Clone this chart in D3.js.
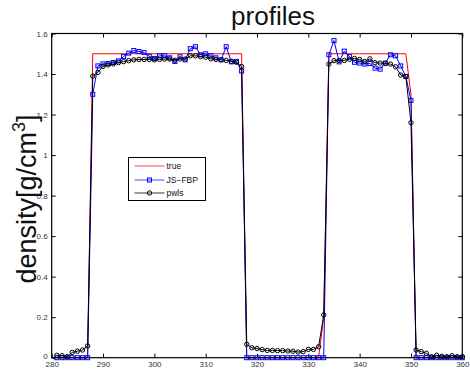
<!DOCTYPE html>
<html><head><meta charset="utf-8">
<script src="https://cdn.jsdelivr.net/npm/d3@7"></script>
<style>body{margin:0;background:#fff}svg{display:block}text{font-family:"Liberation Sans",Arial,sans-serif}</style>
</head><body><svg id="c" width="470" height="369"></svg>
<script>
const positions = [281,282,283,284,285,286,287,288,289,290,291,292,293,294,295,296,297,298,299,300,
301,302,303,304,305,306,307,308,309,310,311,312,313,314,315,316,317,318,319,320,
321,322,323,324,325,326,327,328,329,330,331,332,333,334,335,336,337,338,339,340,
341,342,343,344,345,346,347,348,349,350,351,352,353,354,355,356,357,358,359,360];
const trueVals = [0,0,0,0,0,0,0,
1.5,1.5,1.5,1.5,1.5,1.5,1.5,1.5,1.5,1.5,1.5,1.5,1.5,1.5,1.5,1.5,1.5,1.5,1.5,1.5,1.5,1.5,1.5,1.5,1.5,1.5,1.5,1.5,1.5,1.5,
0,0,0,0,0,0,0,0,0,0,0,0,0,0,0,
0.2,
1.5,1.5,1.5,1.5,1.5,1.5,1.5,1.5,1.5,1.5,1.5,1.5,1.5,1.5,1.5,1.5,
1.3,
0,0,0,0,0,0,0,0,0,0];
const jsfbpVals = [0,0,0,0,0,0,0,
1.30,1.44,1.45,1.452,1.457,1.465,1.486,1.503,1.516,1.511,1.506,1.488,1.477,1.49,1.49,1.48,1.462,1.485,1.47,1.525,1.535,1.495,1.50,1.49,1.48,1.47,1.535,1.46,1.462,1.415,
0,0,0,0,0,0,0,0,0,0,0,0,0,0,0,0,
1.495,1.565,1.46,1.513,1.486,1.458,1.454,1.449,1.452,1.429,1.424,1.454,1.495,1.49,1.44,1.388,1.27,
0,0,0,0,0,0,0,0,0,0];
const pwlsVals = [0.012,0.01,0.005,0.026,0.032,0.038,0.058,
1.39,1.408,1.438,1.445,1.45,1.456,1.461,1.466,1.47,1.472,1.472,1.472,1.47,1.472,1.474,1.474,1.468,1.474,1.474,1.49,1.49,1.486,1.483,1.475,1.472,1.47,1.467,1.463,1.458,1.437,
0.066,0.049,0.045,0.04,0.036,0.036,0.035,0.035,0.033,0.032,0.028,0.03,0.041,0.041,0.054,
0.211,
1.449,1.466,1.467,1.467,1.473,1.477,1.472,1.462,1.475,1.456,1.454,1.452,1.449,1.436,1.395,1.388,1.16,
0.038,0.03,0.022,0.005,0.012,0.007,0.005,0.01,0.005,0.005];
const xTicks = [280,290,300,310,320,330,340,350,360];
const yTicks = [0,0.2,0.4,0.6,0.8,1,1.2,1.4,1.6];
const seriesNames = ["true","JS\u2212FBP","pwls"];
const titleText = "profiles";

const svg = d3.select("#c");
const L = 51.7, R = 462.3, T = 33.5, B = 357.7;
const x = d3.scaleLinear().domain([280,360]).range([L,R]);
const y = d3.scaleLinear().domain([0,1.6]).range([B,T]);

const fmtY = d => d === 0 ? "0" : (d === 1 ? "1" : d3.format(".1f")(d));

// axes
const axB = d3.axisBottom(x).tickValues(xTicks).tickSize(-4).tickPadding(4).tickFormat(d3.format("d"));
const axT = d3.axisTop(x).tickValues(xTicks).tickSize(-4).tickFormat("");
const axL = d3.axisLeft(y).tickValues(yTicks).tickSize(-4).tickPadding(4).tickFormat(fmtY);
const axR = d3.axisRight(y).tickValues(yTicks).tickSize(-4).tickFormat("");
function style(g){ g.select(".domain").remove(); g.selectAll("line").attr("stroke","#000"); g.selectAll("text").attr("font-size",8).attr("fill","#333").attr("font-family","Liberation Sans, Arial, sans-serif"); }
svg.append("g").attr("transform",`translate(0,${B})`).call(axB).call(style);
svg.append("g").attr("transform",`translate(0,${T})`).call(axT).call(style);
const gl = svg.append("g").attr("transform",`translate(${L},0)`).call(axL).call(style);
gl.selectAll(".tick").filter(d=>d===0).select("text").attr("dy","0.1em");
svg.append("g").attr("transform",`translate(${R},0)`).call(axR).call(style);

const rows = positions.map((p,i)=>({p, t:trueVals[i], j:jsfbpVals[i], w:pwlsVals[i]}));
const line = key => d3.line().x(d=>x(d.p)).y(d=>y(d[key]));

const plot = svg.append("g");
plot.append("path").datum(rows).attr("d",line("t")).attr("fill","none").attr("stroke","#ff0000").attr("stroke-width",1);
plot.append("path").datum(rows).attr("d",line("j")).attr("fill","none").attr("stroke","#0000ff").attr("stroke-width",1);
plot.selectAll("rect.sq").data(rows).enter().append("rect").attr("class","sq")
  .attr("x",d=>x(d.p)-2).attr("y",d=>y(d.j)-2).attr("width",4).attr("height",4)
  .attr("fill","none").attr("stroke","#0000ff").attr("stroke-width",1);
plot.append("path").datum(rows).attr("d",line("w")).attr("fill","none").attr("stroke","#000").attr("stroke-width",1);
plot.selectAll("circle.ci").data(rows).enter().append("circle").attr("class","ci")
  .attr("cx",d=>x(d.p)).attr("cy",d=>y(d.w)).attr("r",2.2)
  .attr("fill","none").attr("stroke","#000").attr("stroke-width",1);

// frame
svg.append("rect").attr("x",L).attr("y",T).attr("width",R-L).attr("height",B-T)
  .attr("fill","none").attr("stroke","#000").attr("stroke-width",1.2);

// title
svg.append("text").attr("x",273).attr("y",25).attr("text-anchor","middle")
  .attr("font-size",26).attr("fill","#111").text(titleText);

// y label
const yl = svg.append("text").attr("transform","translate(36,199) rotate(-90)")
  .attr("text-anchor","middle").attr("font-size",27).attr("fill","#111");
yl.append("tspan").text("density[g/cm");
yl.append("tspan").attr("font-size",18).attr("dy",-11).text("3");
yl.append("tspan").attr("dy",11).text("]");

// legend
const lg = svg.append("g").attr("transform","translate(128.5,157.5)");
lg.append("rect").attr("width",77).attr("height",43).attr("fill","#fff").attr("stroke","#000").attr("stroke-width",1);
const colors = ["#ff6666","#6666ff","#555555"];
const rowY = [8.5, 22.5, 35.5];
seriesNames.forEach((n,i)=>{
  const yy = rowY[i];
  lg.append("line").attr("x1",6).attr("x2",36).attr("y1",yy).attr("y2",yy).attr("stroke",colors[i]).attr("stroke-width",1.2);
  if(i===1) lg.append("rect").attr("x",19).attr("y",yy-2).attr("width",4).attr("height",4).attr("fill","none").attr("stroke","#0000ff");
  if(i===2) lg.append("circle").attr("cx",21).attr("cy",yy).attr("r",2.2).attr("fill","none").attr("stroke","#000");
  lg.append("text").attr("x",38).attr("y",yy+3).attr("font-size",8.5).attr("fill","#111").text(n);
});
</script></body></html>
